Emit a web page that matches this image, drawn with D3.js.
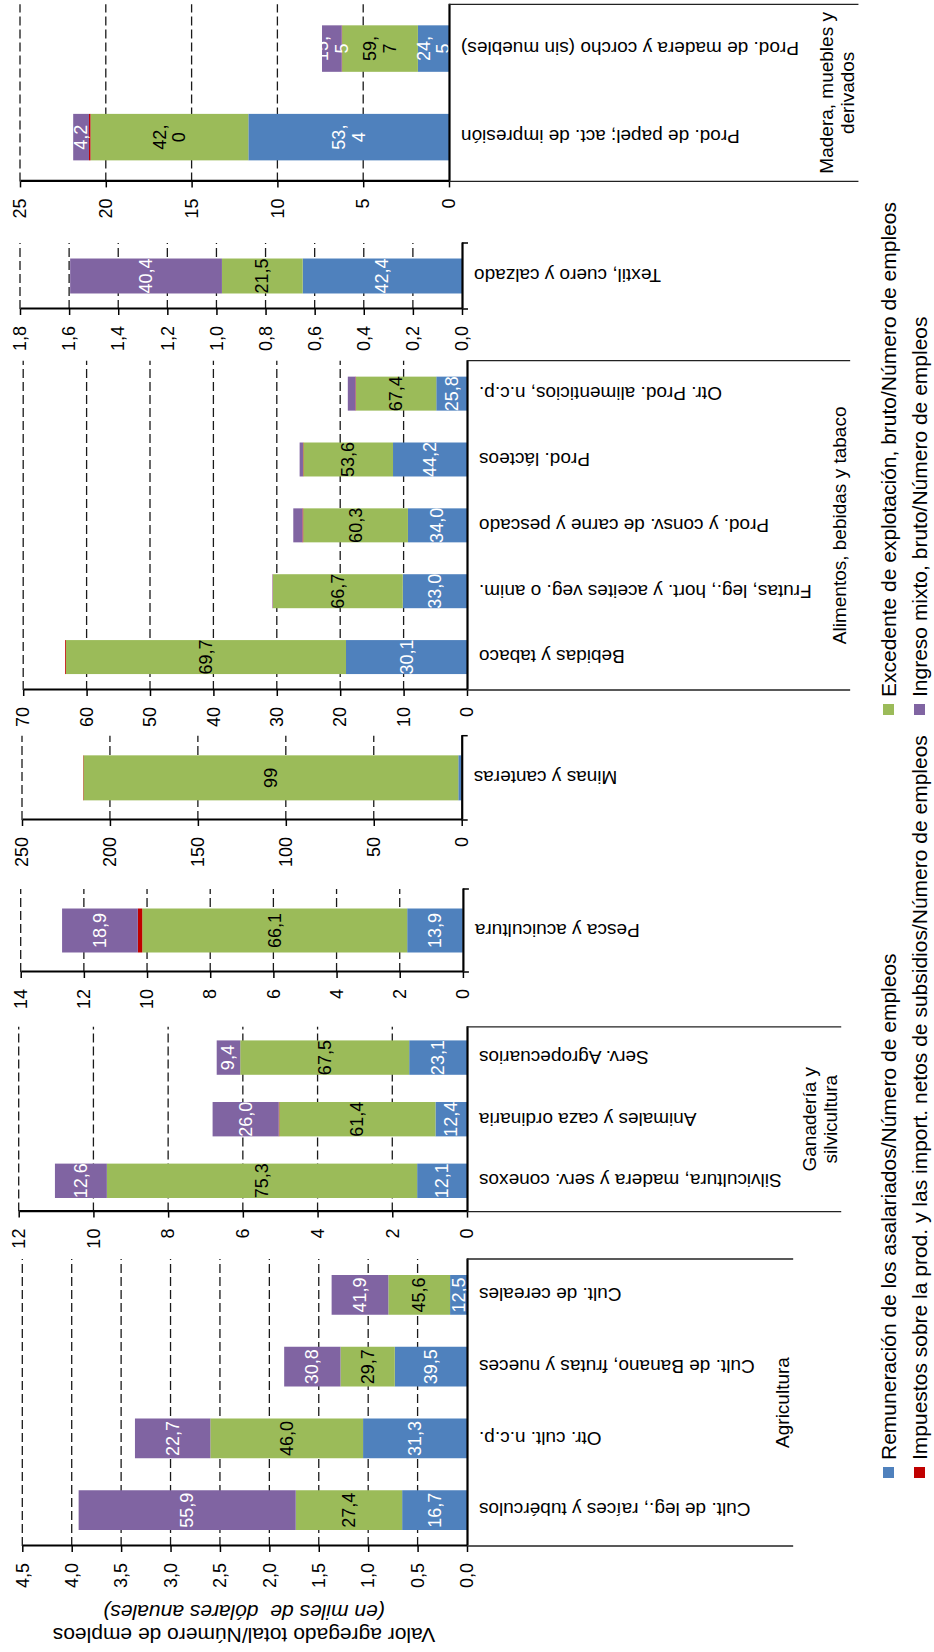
<!DOCTYPE html>
<html>
<head>
<meta charset="utf-8">
<script src="https://cdn.jsdelivr.net/npm/d3@7"></script>
<style>
  body { margin: 0; background: #fff; }
  text { font-family: "Liberation Sans", Arial, Helvetica, sans-serif; }
</style>
</head>
<body>
<svg id="chart" width="934" height="1652"></svg>
<script>
// --- data ---
const categories = [
  'Cult. de leg., raíces y tubérculos', 'Otr. cult. n.c.p.', 'Cult. de Banano, frutas y nueces', 'Cult. de cereales',
  'Silvicultura, madera y serv. conexos', 'Animales y caza ordinaria', 'Serv. Agropecuarios',
  'Pesca y acuicultura',
  'Minas y canteras',
  'Bebidas y tabaco', 'Frutas, leg., hort. y aceites veg. o anim.', 'Prod. y consv. de carne y pescado',
  'Prod. lácteos', 'Otr. Prod. alimenticios, n.c.p.',
  'Textil, cuero y calzado',
  'Prod. de papel; act. de impresión', 'Prod. de madera y corcho (sin muebles)'
];
const panelOf = [0, 0, 0, 0, 1, 1, 1, 2, 3, 4, 4, 4, 4, 4, 5, 6, 6];
const groupLabels = [
  ['Agricultura'], ['Ganadería y', 'silvicultura'], [], [],
  ['Alimentos, bebidas y tabaco'], [], ['Madera, muebles y', 'derivados']
];
// valor agregado total / empleos (miles de dólares)
const totalVA = [3.93, 3.36, 1.85, 1.37, 11.03, 6.81, 6.70, 12.69, 215.3, 63.4, 30.7, 27.4, 26.4, 18.8, 1.53, 21.9, 7.4];
// shares of each component (%)
const remShare = [16.7, 31.3, 39.5, 12.5, 12.1, 12.4, 23.1, 13.9, 0.9, 30.1, 33.0, 34.0, 44.2, 25.8, 42.4, 53.4, 24.5];
const excShare = [27.4, 46.0, 29.7, 45.6, 75.3, 61.4, 67.5, 66.1, 99.0, 69.7, 66.7, 60.3, 53.6, 67.4, 21.5, 42.0, 59.7];
const impShare = [0, 0, 0, 0, 0, 0.2, 0, 1.1, 0.1, 0.2, 0.1, 0.4, 0.2, 0.4, -4.3, 0.4, 0.3];
const mixShare = [55.9, 22.7, 30.8, 41.9, 12.6, 26.0, 9.4, 18.9, 0, 0, 0.2, 5.3, 2.0, 6.4, 40.4, 4.2, 15.5];
const axisMax = [4.5, 12, 14, 250, 70, 1.8, 25];
const axisStep = [0.5, 2, 2, 50, 10, 0.2, 5];
const seriesNames = [
  'Remuneración de los asalariados/Número de empleos',
  'Excedente de explotación, bruto/Número de empleos',
  'Impuestos sobre la prod. y las import. netos de subsidios/Número de empleos',
  'Ingreso mixto, bruto/Número de empleos'
];

// --- layout, drawn in landscape coords then turned a quarter ---
const W = 1652;
const layout = [
  { x0: 106, x1: 393, y0: 467, yTop: 22.3, pad: 0.446, dec: 1 },
  { x0: 440.4, x1: 625.2, y0: 467, yTop: 18.7, pad: 0.442, dec: 0 },
  { x0: 680, x1: 763, y0: 462.9, yTop: 20.7, pad: 0.47, dec: 0 },
  { x0: 832, x1: 916.3, y0: 461.7, yTop: 22, pad: 0.466, dec: 0, labelDec: 0 },
  { x0: 962, x1: 1291.3, y0: 467, yTop: 23.2, pad: 0.484, dec: 0 },
  { x0: 1343, x1: 1409, y0: 462, yTop: 20, pad: 0.47, dec: 1 },
  { x0: 1470.6, x1: 1647.7, y0: 449, yTop: 20, pad: 0.475, dec: 0, wrap: true }
];
const keys = ['rem', 'exc', 'imp', 'mix'];
const colors = { rem: '#4F81BD', exc: '#9BBB59', imp: '#C00000', mix: '#8064A2' };
const labelFill = { rem: '#fff', exc: '#000', mix: '#fff' };
const loc = d3.formatLocale({ decimal: ',', thousands: '.', grouping: [3], currency: ['', ''] });

const svg = d3.select('#chart');
const defs = svg.append('defs');
const root = svg.append('g').attr('transform', `translate(0,${W}) rotate(-90)`);

layout.forEach((p, i) => {
  const rows = d3.range(categories.length).filter(k => panelOf[k] === i).map(k => ({
    cat: categories[k],
    rem: totalVA[k] * remShare[k] / 100,
    exc: totalVA[k] * excShare[k] / 100,
    imp: totalVA[k] * impShare[k] / 100,
    mix: totalVA[k] * mixShare[k] / 100,
    pct: { rem: remShare[k], exc: excShare[k], imp: impShare[k], mix: mixShare[k] }
  }));
  const n = Math.round(axisMax[i] / axisStep[i]);
  const ticks = d3.range(n + 1).map(j => +(j * axisStep[i]).toFixed(3));

  const x = d3.scaleBand().domain(rows.map(r => r.cat)).range([p.x0, p.x1])
    .paddingInner(p.pad).paddingOuter(p.pad / 2);
  const y = d3.scaleLinear().domain([0, axisMax[i]]).range([p.y0, p.yTop]);
  const g = root.append('g');

  // dashed gridlines
  g.append('g').selectAll('line').data(ticks.slice(1)).join('line')
    .attr('x1', p.x0).attr('x2', p.x1)
    .attr('y1', d => y(d)).attr('y2', d => y(d))
    .attr('stroke', '#1a1a1a').attr('stroke-width', 1.3).attr('stroke-dasharray', '9,4');

  const clipId = 'clip' + i;
  defs.append('clipPath').attr('id', clipId).append('rect')
    .attr('x', p.x0).attr('y', p.yTop - 20)
    .attr('width', p.x1 - p.x0).attr('height', p.y0 - p.yTop + 20);

  const stacked = d3.stack().keys(keys).offset(d3.stackOffsetDiverging)(rows);
  g.append('g').attr('clip-path', `url(#${clipId})`)
    .selectAll('g').data(stacked).join('g').attr('fill', s => colors[s.key])
    .selectAll('rect').data(s => s).join('rect')
      .attr('x', d => x(d.data.cat))
      .attr('width', x.bandwidth())
      .attr('y', d => y(Math.max(d[0], d[1])))
      .attr('height', d => Math.abs(y(d[0]) - y(d[1])));

  // data labels
  const fmt = loc.format(p.labelDec === 0 ? '.0f' : '.1f');
  stacked.filter(s => s.key !== 'imp').forEach(s => {
    s.forEach(d => {
      const len = Math.abs(y(d[0]) - y(d[1]));
      if (len < 12) return;
      const cx = x(d.data.cat) + x.bandwidth() / 2;
      const t = g.append('text')
        .attr('x', cx).attr('y', (y(d[0]) + y(d[1])) / 2)
        .attr('text-anchor', 'middle').attr('dominant-baseline', 'central')
        .attr('font-size', 18).attr('fill', labelFill[s.key]);
      const str = fmt(d.data.pct[s.key]);
      if (p.wrap && str.length > 3) {
        const parts = str.split(',');
        t.append('tspan').attr('x', cx).attr('dy', '-0.55em').text(parts[0] + ',');
        t.append('tspan').attr('x', cx).attr('dy', '1.1em').text(parts[1]);
      } else {
        t.text(str);
      }
    });
  });

  // value axis
  const ay = g.append('g').attr('transform', `translate(${p.x0},0)`)
    .call(d3.axisLeft(y).tickValues(ticks).tickFormat(loc.format(p.dec ? '.1f' : '.0f'))
      .tickSize(6).tickSizeOuter(0).tickPadding(11));
  ay.attr('font-family', null).attr('font-size', 18);
  ay.select('.domain').attr('stroke', '#000').attr('stroke-width', 2.2);
  ay.selectAll('.tick line').attr('stroke', '#000').attr('stroke-width', 1.5);
  ay.selectAll('.tick text').attr('fill', '#000');

  // category axis
  const ax = g.append('g').attr('transform', `translate(0,${p.y0})`)
    .call(d3.axisBottom(x).tickSize(0).tickSizeOuter(0));
  ax.attr('font-family', null).attr('font-size', 19);
  ax.select('.domain').attr('stroke', '#000').attr('stroke-width', 2.2);
  ax.selectAll('.tick text')
    .attr('y', 0).attr('x', -12).attr('dy', '0.35em')
    .attr('text-anchor', 'end').attr('transform', 'rotate(-90)').attr('fill', '#000');

  const maxLen = d3.max(ax.selectAll('.tick text').nodes(), nd => nd.getComputedTextLength());
  const lines = groupLabels[i];
  if (lines.length) {
    const first = p.y0 + 12 + maxLen + 27.5;
    lines.forEach((ln, j) => {
      g.append('text')
        .attr('x', (p.x0 + p.x1) / 2).attr('y', first + j * 21)
        .attr('text-anchor', 'middle').attr('dominant-baseline', 'central')
        .attr('font-size', 19).attr('fill', '#000').text(ln);
    });
    const end = first + (lines.length - 1) * 21 + 11;
    g.selectAll(null).data([p.x0, p.x1]).join('line')
      .attr('x1', d => d).attr('x2', d => d)
      .attr('y1', p.y0).attr('y2', end)
      .attr('stroke', '#222').attr('stroke-width', 1.3);
  } else {
    g.selectAll(null).data([p.x0, p.x1]).join('line')
      .attr('x1', d => d).attr('x2', d => d)
      .attr('y1', p.y0).attr('y2', p.y0 + 6)
      .attr('stroke', '#000').attr('stroke-width', 1.5);
  }
});

// axis title
root.append('text')
  .attr('transform', 'translate(17,244) rotate(-90)')
  .attr('text-anchor', 'middle').attr('dominant-baseline', 'central')
  .attr('font-size', 21).attr('fill', '#000')
  .text('Valor agregado total/Número de empleos');
root.append('text')
  .attr('transform', 'translate(40,244) rotate(-90)')
  .attr('text-anchor', 'middle').attr('dominant-baseline', 'central')
  .attr('font-size', 21).attr('fill', '#000')
  .style('font-style', 'italic').style('white-space', 'pre')
  .text('(en miles de  dólares anuales)');

// legend
const legendColX = [174, 937];
const legendRowY = [888.5, 919.5];
const legend = root.append('g');
keys.forEach((k, j) => {
  const lx = legendColX[j % 2];
  const ly = legendRowY[Math.floor(j / 2)];
  legend.append('rect').attr('x', lx).attr('y', ly - 5.5)
    .attr('width', 11).attr('height', 11).attr('fill', colors[k]);
  legend.append('text').attr('x', lx + 18).attr('y', ly)
    .attr('dominant-baseline', 'central').attr('font-size', 21).attr('fill', '#000')
    .text(seriesNames[j]);
});
</script>
</body>
</html>
